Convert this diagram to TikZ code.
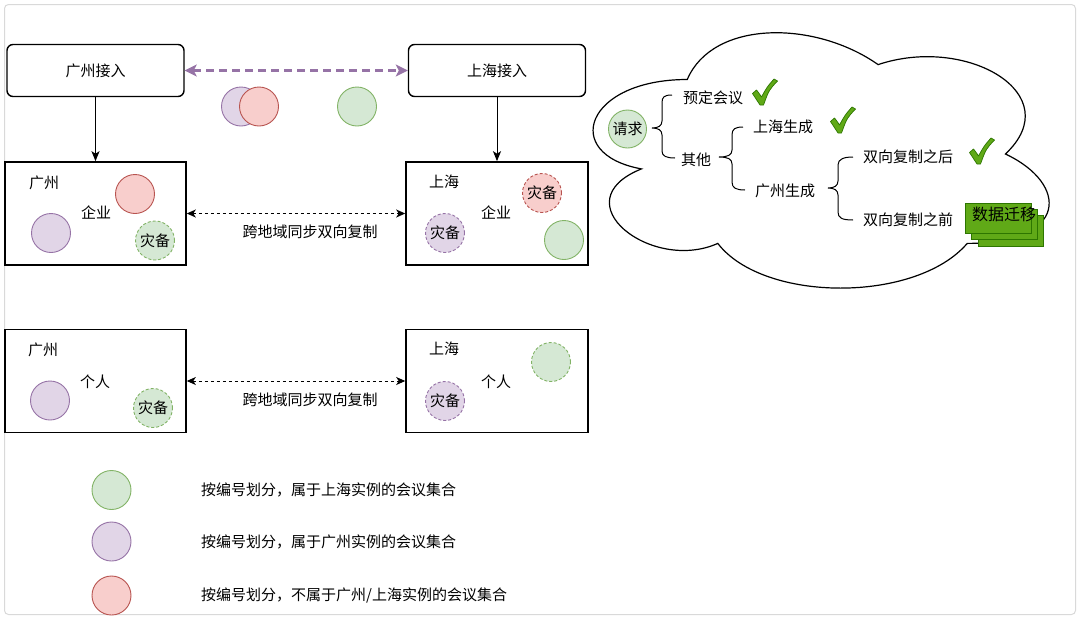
\documentclass[tikz,border=0pt]{standalone}
\usepackage{fontspec}
\setmainfont{Noto Sans CJK SC}
\usetikzlibrary{arrows.meta}

\definecolor{pfill}{HTML}{E1D5E7}
\definecolor{pline}{HTML}{9673A6}
\definecolor{rfill}{HTML}{F8CECC}
\definecolor{rline}{HTML}{B85450}
\definecolor{gfill}{HTML}{D5E8D4}
\definecolor{gline}{HTML}{82B366}
\definecolor{tickfill}{HTML}{60A917}
\definecolor{tickline}{HTML}{2D7600}
\definecolor{framegray}{HTML}{D9D9D9}

\tikzset{
  access/.style={draw, line width=1.4pt, rounded corners=6pt, minimum width=177pt, minimum height=52pt, inner sep=0pt},
  region/.style={draw, line width=1.6pt, inner sep=0pt},
  txt/.style={inner sep=0pt},
  dot/.style={circle, inner sep=0pt, minimum size=39pt, line width=0.9pt},
  pdot/.style={dot, draw=pline, fill=pfill},
  rdot/.style={dot, draw=rline, fill=rfill},
  gdot/.style={dot, draw=gline, fill=gfill},
  backup/.style={dash pattern=on 3pt off 2pt},
  down/.style={line width=1pt, -{Stealth[length=10pt,width=8pt,inset=2.5pt]}},
  sync/.style={line width=1pt, dash pattern=on 3pt off 3pt,
    {Stealth[length=9pt,width=8pt,inset=2.5pt]}-{Stealth[length=9pt,width=8pt,inset=2.5pt]}},
  brace/.style={line width=1pt},
  greentick/.pic={
    \filldraw[fill=tickfill, draw=tickline, line width=0.7pt, line join=round]
      (-12.5,1.5) -- (-8.5,-2) .. controls (-6.5,0.5) .. (-3.5,5)
      .. controls (2,-5) .. (9,-13) -- (12.5,-11)
      .. controls (4,-2) .. (-1.5,13) -- (-5,13)
      .. controls (-8,7) .. cycle;
  }
}

\begin{document}
\begin{tikzpicture}[x=1pt, y=-1pt, font=\fontsize{15}{18}\selectfont]
\useasboundingbox (0,0) rectangle (1080,619);

% outer frame
\draw[framegray, line width=1pt, rounded corners=4pt] (4.5,4.5) rectangle (1075.5,614.5);

% access entry points
\node[access] (gzin) at (95.5,70.5) {广州接入};
\node[access] (shin) at (497,70.5) {上海接入};
\draw[pline, line width=2.6pt, dash pattern=on 8pt off 5pt,
  {Stealth[length=12pt,width=12pt,inset=3pt]}-{Stealth[length=12pt,width=12pt,inset=3pt]}]
  (gzin.east) -- (shin.west);

\node[pdot] (topP) at (241,106.5) {};
\node[rdot] (topR) at (259,106.5) {};
\node[gdot] (topG) at (357,106.5) {};

% enterprise row
\node[region, minimum width=181pt, minimum height=103pt] (gzent) at (95.5,213.5) {};
\node[region, minimum width=182pt, minimum height=103pt] (shent) at (497,213.5) {};
\draw[down] (gzin.south) -- (gzent.north);
\draw[down] (shin.south) -- (shent.north);
\draw[sync] (gzent.east) -- (shent.west);
\node[txt] (lbl1) at (310,232) {跨地域同步双向复制};

\node[txt] (gzname1) at (44,183) {广州};
\node[txt] (gzkind1) at (96,213) {企业};
\node[rdot] (gz1r) at (135,194) {};
\node[pdot] (gz1p) at (51,233) {};
\node[gdot, backup] (gz1g) at (155,240.5) {灾备};

\node[txt] (shname1) at (444,182) {上海};
\node[txt] (shkind1) at (496,213) {企业};
\node[rdot, backup] (sh1r) at (542,193) {灾备};
\node[pdot, backup] (sh1p) at (445,233) {灾备};
\node[gdot] (sh1g) at (564,240) {};

% personal row
\node[region, minimum width=181pt, minimum height=103pt] (gzper) at (95.5,381) {};
\node[region, minimum width=182pt, minimum height=103pt] (shper) at (497,381) {};
\draw[sync] (gzper.east) -- (shper.west);
\node[txt] (lbl2) at (310,400) {跨地域同步双向复制};

\node[txt] (gzname2) at (43,350) {广州};
\node[txt] (gzkind2) at (95,382) {个人};
\node[pdot] (gz2p) at (50,400.5) {};
\node[gdot, backup] (gz2g) at (153,408) {灾备};

\node[txt] (shname2) at (444,349) {上海};
\node[txt] (shkind2) at (496,382) {个人};
\node[gdot, backup] (sh2g) at (551,362) {};
\node[pdot, backup] (sh2p) at (445,401) {灾备};

% legend
\node[gdot] (legG) at (111.5,490) {};
\node[pdot] (legP) at (111.5,541.5) {};
\node[rdot] (legR) at (111.5,595.5) {};
\node[txt, anchor=west] (legGt) at (201,490) {按编号划分，属于上海实例的会议集合};
\node[txt, anchor=west] (legPt) at (201,541.5) {按编号划分，属于广州实例的会议集合};
\node[txt, anchor=west] (legRt) at (201,595.5) {按编号划分，不属于广州/上海实例的会议集合};

% decision cloud
\draw[line width=1.2pt, fill=white]
  (687.25,79.5)
  .. controls (585.45,79.5) and (560,154) .. (641.44,168.9)
  .. controls (560,201.68) and (651.62,273.2) .. (717.79,243.4)
  .. controls (763.6,303) and (916.3,303) .. (967.2,243.4)
  .. controls (1069,243.4) and (1069,183.8) .. (1005.4,154)
  .. controls (1069,94.4) and (967.2,34.8) .. (878.1,64.6)
  .. controls (814.5,19.9) and (712.7,19.9) .. cycle;

\node[gdot, minimum size=38pt] (req) at (627.5,129) {请求};

% brace: request -> booked / other
\draw[brace] (672,95) .. controls (664,95) and (662,97) .. (662,103)
  -- (662,121) .. controls (662,126) and (658,128) .. (652,128)
  .. controls (658,128) and (662,130) .. (662,135)
  -- (662,151) .. controls (662,156) and (666,158) .. (675,158);
\node[txt, anchor=west] (book) at (683,98) {预定会议};
\node[txt, anchor=west] (other) at (681,160) {其他};
\pic at (765,92) {greentick};

% brace: other -> origin
\draw[brace] (743,127) .. controls (735,127) and (732,129) .. (732,135)
  -- (732,150) .. controls (732,155) and (728,157) .. (719,157)
  .. controls (728,157) and (732,159) .. (732,164)
  -- (732,182) .. controls (732,188) and (736,190) .. (745,190);
\node[txt, anchor=west] (shgen) at (753,127) {上海生成};
\node[txt, anchor=west] (gzgen) at (755,191) {广州生成};
\pic at (843,120) {greentick};

% brace: Guangzhou origin -> timing
\draw[brace] (853,157) .. controls (844,157) and (838,159) .. (838,165)
  -- (838,181) .. controls (838,186) and (834,188) .. (828,188)
  .. controls (834,188) and (838,190) .. (838,195)
  -- (838,212) .. controls (838,218) and (842,220) .. (853,220);
\node[txt, anchor=west] (after) at (863,157) {双向复制之后};
\node[txt, anchor=west] (before) at (863,220) {双向复制之前};
\pic at (982,151) {greentick};

% data migration stack
\filldraw[fill=tickfill, draw=tickline, line width=0.8pt] (978,215.5) rectangle (1043,246);
\filldraw[fill=tickfill, draw=tickline, line width=0.8pt] (971.5,209) rectangle (1037,239.5);
\filldraw[fill=tickfill, draw=tickline, line width=0.8pt] (965,203) rectangle (1031,233);
\node[txt, font=\fontsize{16}{18}\selectfont] (migrate) at (1004,214) {数据迁移};

\end{tikzpicture}
\end{document}
